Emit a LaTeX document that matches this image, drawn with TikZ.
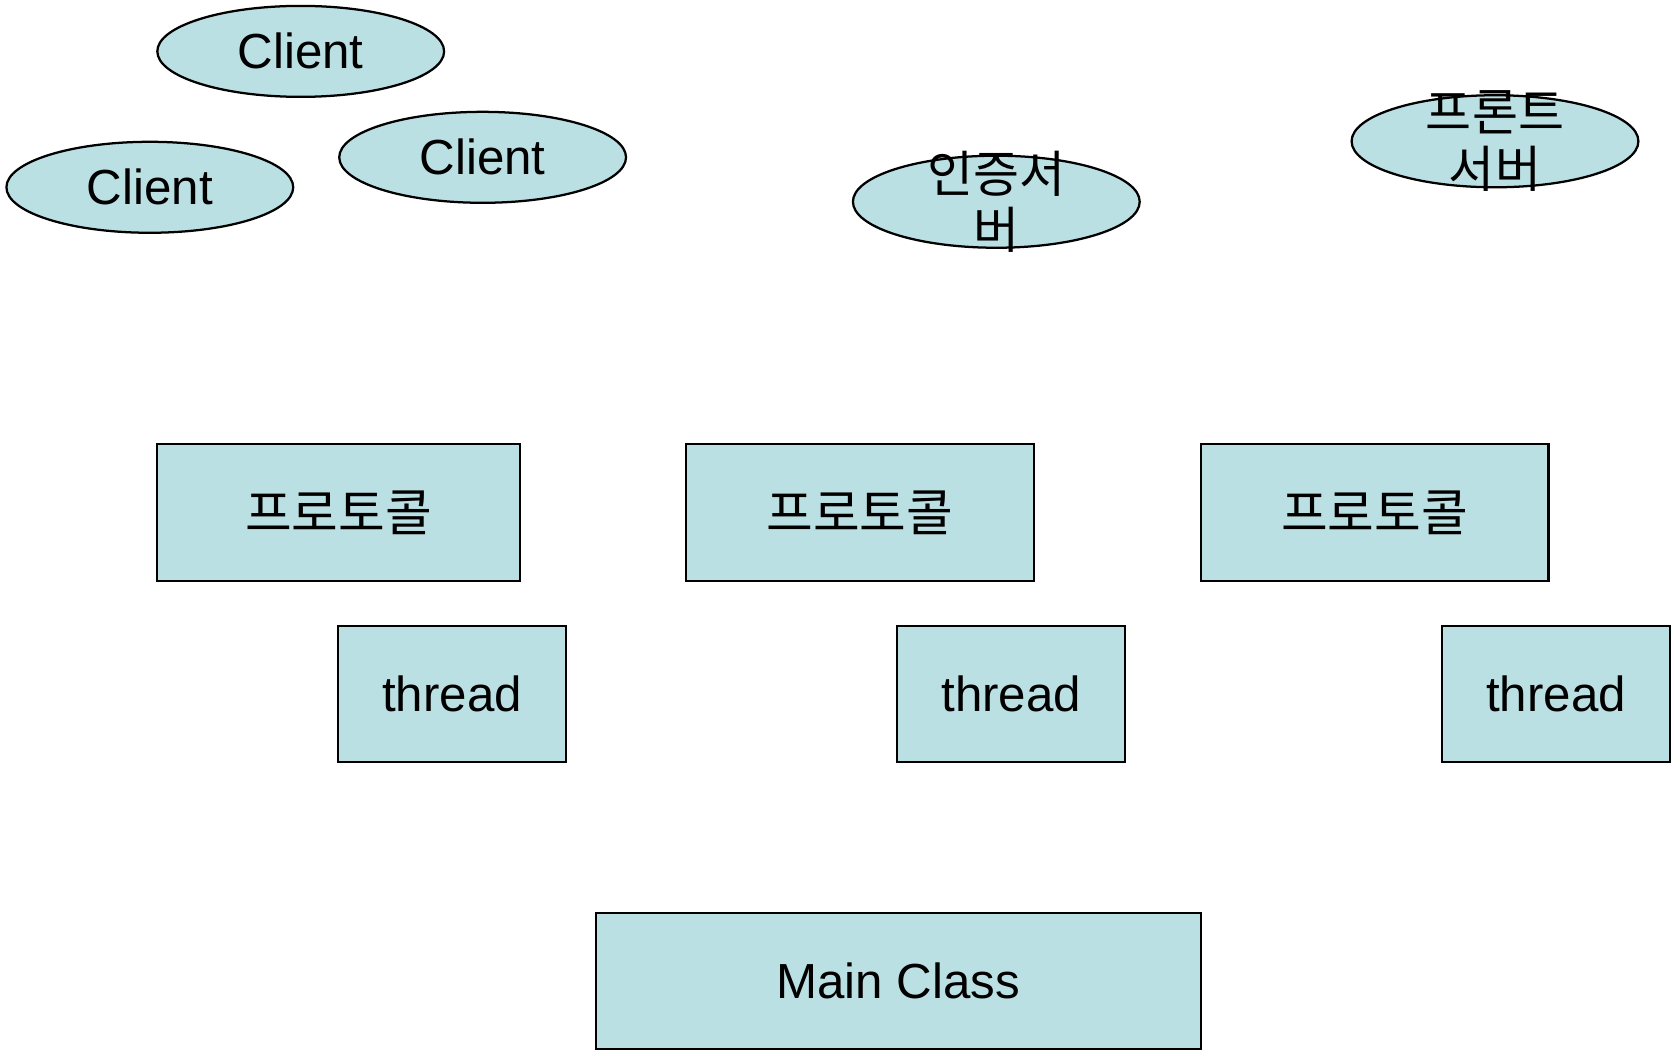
\documentclass[tikz,border=0pt]{standalone}
\usepackage{fontspec}
\setmainfont{Liberation Sans}
\newfontfamily\krfont{Noto Sans CJK KR}
\usetikzlibrary{positioning,shapes.geometric}
\definecolor{boxfill}{HTML}{BBE0E3}

\begin{document}
\begin{tikzpicture}[%
	x=0.1mm, y=-0.1mm,
	shape base/.style={draw=black, line width=0.6pt, fill=boxfill, inner sep=0pt},
	client/.style={shape base, ellipse, minimum width=26.8mm, minimum height=8.5mm,
		font=\fontsize{13.1}{15}\selectfont},
	server/.style={shape base, ellipse, minimum width=26.8mm, minimum height=8.6mm},
	krlabel/.style={align=center, inner sep=0pt, font=\krfont\fontsize{13.3}{15.1}\selectfont},
	proto/.style={shape base, minimum height=12.8mm, font=\krfont\fontsize{13.5}{15}\selectfont},
	threadbox/.style={shape base, minimum width=21.3mm, minimum height=12.7mm,
		font=\fontsize{13.1}{15}\selectfont},
	mainbox/.style={shape base, minimum width=56.5mm, minimum height=12.7mm,
		font=\fontsize{13.1}{15}\selectfont}
	]
	\useasboundingbox (0,0) rectangle (1568,983);
	
	% clients
	\node[client] (c1) at (281,48) {Client};
	\node[client] (c2) at (140,175) {Client};
	\node[client] (c3) at (451,147) {Client};
	
	% servers
	\node[server, label={[krlabel]center:인증서\\버}] (auth) at (931,188.5) {};
	\node[server, label={[krlabel]center:프론트\\서버}] (front) at (1397,132) {};
	
	% protocol layer
	\node[proto, minimum width=33.9mm] (p1) at (316.5,479) {프로토콜};
	\node[proto, minimum width=32.5mm] (p2) at (803.5,479) {프로토콜};
	\node[proto, minimum width=32.5mm] (p3) at (1284.5,479) {프로토콜};
	
	% threads
	\node[threadbox] (t1) at (422.5,648.5) {thread};
	\node[threadbox] (t2) at (945,648.5) {thread};
	\node[threadbox] (t3) at (1454,648.5) {thread};
	
	\node[mainbox] (main) at (839.5,916.5) {Main Class};
\end{tikzpicture}
\end{document}
